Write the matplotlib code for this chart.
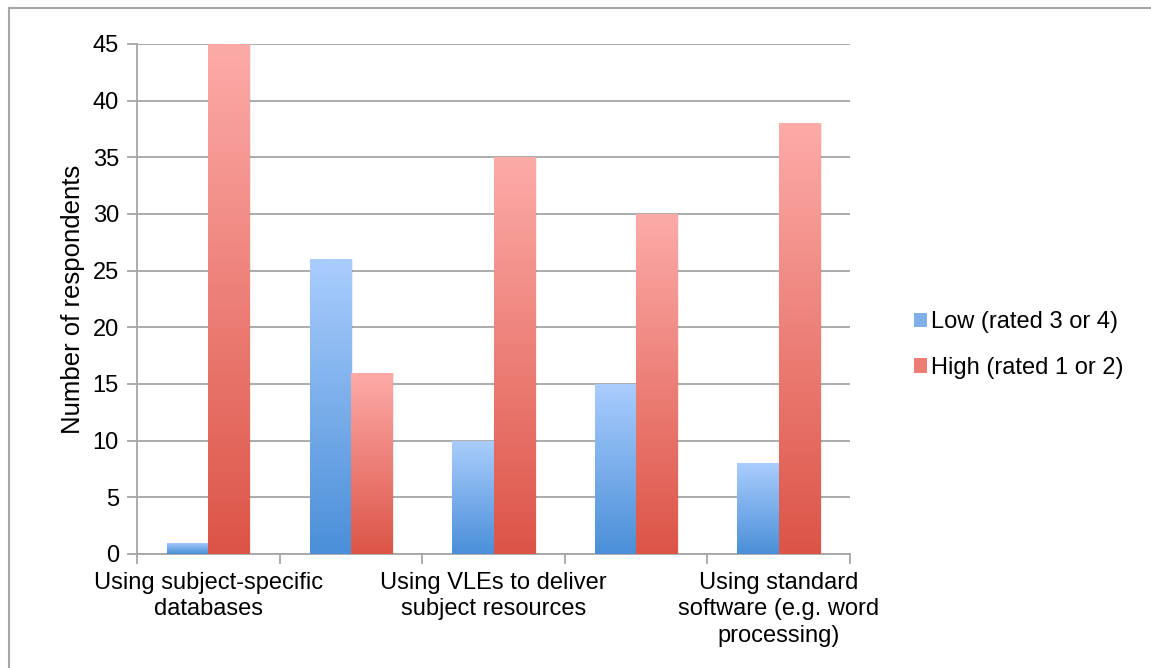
"""Grouped bar chart of confidence ratings, Excel-style gradient bars."""

import matplotlib

matplotlib.use("Agg")
import matplotlib.pyplot as plt  # noqa: E402
import numpy as np  # noqa: E402
from matplotlib.colors import LinearSegmentedColormap  # noqa: E402
from matplotlib.lines import Line2D  # noqa: E402
from matplotlib.patches import Patch, Rectangle  # noqa: E402

plt.rcParams["font.family"] = ["Liberation Sans", "DejaVu Sans"]

# category labels (only every other one fits under the axis)
CATEGORY_LABELS = [
    "Using subject-specific\ndatabases",
    "",
    "Using VLEs to deliver\nsubject resources",
    "",
    "Using standard\nsoftware (e.g. word\nprocessing)",
]
LOW = [1, 26, 10, 15, 8]
HIGH = [45, 16, 35, 30, 38]
SERIES_NAMES = ["Low (rated 3 or 4)", "High (rated 1 or 2)"]

# top colour -> bottom colour of each gradient
BLUE = ("#aacdfd", "#4a8fd8")
RED = ("#fdaba8", "#dc5447")

GRID = "#a6a6a6"
FS = 17


def gradient_bar(ax, x0, w, h, colors):
    if h <= 0:
        return
    cmap = LinearSegmentedColormap.from_list("g", [colors[1], colors[0]])
    grad = np.linspace(0, 1, 256).reshape(-1, 1)
    # soft drop shadow on the right
    ax.add_patch(Rectangle((x0 + 0.012, 0), w, h - 0.05, color="#000000",
                           alpha=0.08, lw=0, zorder=2))
    im = ax.imshow(grad, cmap=cmap, origin="lower", aspect="auto",
                   extent=(x0, x0 + w, 0, h), zorder=3, interpolation="bilinear")
    rect = Rectangle((x0, 0), w, h, transform=ax.transData, fill=False, lw=0)
    ax.add_patch(rect)
    im.set_clip_path(rect)


fig = plt.figure(figsize=(11.51, 6.68), dpi=100)
ax = fig.add_axes([137 / 1151, 1 - 554 / 668, 713 / 1151, 510 / 668])

n = len(LOW)
x = np.arange(n)
width = 0.29
for i in range(n):
    gradient_bar(ax, x[i] - width, width, LOW[i], BLUE)
    gradient_bar(ax, x[i], width, HIGH[i], RED)

ax.set_xlim(-0.5, n - 0.5)
ax.set_ylim(0, 45)
ax.set_yticks(range(0, 46, 5))
ax.yaxis.grid(True, color=GRID, lw=1.3)
ax.set_axisbelow(True)

# category boundaries get tick marks, labels sit at group centres
ax.set_xticks(np.arange(-0.5, n, 1.0))
ax.set_xticklabels([])
ax.set_xticks(x, minor=True)
ax.set_xticklabels(CATEGORY_LABELS, minor=True, fontsize=FS, linespacing=1.25)
ax.tick_params(axis="x", which="major", length=7, width=1.3, color=GRID)
ax.tick_params(axis="x", which="minor", length=0, pad=13)
ax.tick_params(axis="y", length=7, width=1.3, color=GRID, labelsize=FS, pad=6)

for side in ("top", "right"):
    ax.spines[side].set_visible(False)
for side in ("left", "bottom"):
    ax.spines[side].set_color(GRID)
    ax.spines[side].set_linewidth(1.3)

ax.set_ylabel("Number of respondents", fontsize=18.5, labelpad=5.5)

handles = [Patch(facecolor="#7fb0ec", edgecolor="none", label=SERIES_NAMES[0]),
           Patch(facecolor="#ee7d74", edgecolor="none", label=SERIES_NAMES[1])]
fig.legend(handles=handles, loc="center left", bbox_to_anchor=(893 / 1151, 1 - 345 / 668),
           frameon=False, fontsize=FS, handlelength=0.55, handleheight=0.55,
           handletextpad=0.15, labelspacing=1.0)

# frame of the chart area (top and left edges)
fig.add_artist(Line2D([9 / 1151, 1], [1 - 8 / 668, 1 - 8 / 668], color="#a6a6a6", lw=1.5))
fig.add_artist(Line2D([9 / 1151, 9 / 1151], [0, 1 - 8 / 668], color="#a6a6a6", lw=1.5))

fig.savefig("out.png", dpi=100)
